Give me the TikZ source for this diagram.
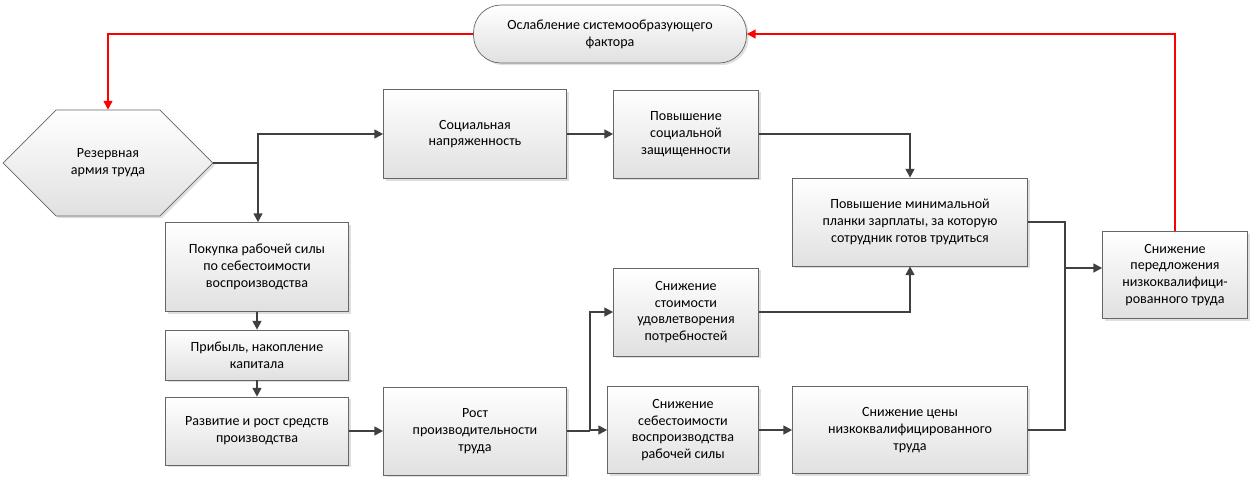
\documentclass[tikz,border=0pt]{standalone}
\usepackage{fontspec}
\setmainfont{Carlito}
\usetikzlibrary{shapes.geometric,shapes.misc,shadows,arrows.meta}

\tikzset{
  box/.style={draw=black!60, top color=white, bottom color=black!12,
    drop shadow={opacity=0.25, shadow xshift=1.2pt, shadow yshift=-1.2pt},
    align=center, inner sep=1pt, font=\fontsize{8}{9.6}\selectfont},
  link/.style={draw=black!75, line width=1.1pt, -{Triangle[length=5pt,width=5pt]}},
  back/.style={draw=red, line width=0.9pt, -{Triangle[length=5pt,width=5pt]}}
}

\begin{document}
\begin{tikzpicture}[x=0.02cm, y=-0.02cm]
  \useasboundingbox (0,0) rectangle (1253,478);

  % left column
  \node (army) [box, chamfered rectangle, chamfered rectangle xsep=1.2cm,
    chamfered rectangle ysep=0.9cm,
    minimum width=4.2cm, minimum height=1.8cm, inner xsep=0pt] at (108,163) {Резервная\\армия труда};
  \node (buy) [box, minimum width=3.66cm, minimum height=1.78cm] at (257,267) {Покупка рабочей силы\\по себестоимости\\воспроизводства};
  \node (profit) [box, minimum width=3.66cm, minimum height=1.0cm] at (257,355) {Прибыль, накопление\\капитала};
  \node (means) [box, minimum width=3.66cm, minimum height=1.36cm] at (257,431) {Развитие и рост средств\\производства};

  % middle
  \node (tension) [box, minimum width=3.66cm, minimum height=1.78cm] at (475,134) {Социальная\\напряженность};
  \node (growth) [box, minimum width=3.66cm, minimum height=1.76cm] at (475,431) {Рост\\производительности\\труда};
  \node (protect) [box, minimum width=2.9cm, minimum height=1.76cm] at (686,134) {Повышение\\социальной\\защищенности};
  \node (needs) [box, minimum width=2.9cm, minimum height=1.76cm] at (686,312) {Снижение\\стоимости\\удовлетворения\\потребностей};
  \node (cost) [box, minimum width=3.02cm, minimum height=1.74cm] at (683,430) {Снижение\\себестоимости\\воспроизводства\\рабочей силы};

  % right
  \node (wage) [box, minimum width=4.7cm, minimum height=1.76cm] at (910,222) {Повышение минимальной\\планки зарплаты, за которую\\сотрудник готов трудиться};
  \node (price) [box, minimum width=4.7cm, minimum height=1.74cm] at (910,430) {Снижение цены\\низкоквалифицированного\\труда};
  \node (supply) [box, minimum width=2.9cm, minimum height=1.74cm] at (1175,275) {Снижение\\передложения\\низкоквалифици-\\рованного труда};
  \node (weak) [box, rounded corners=0.55cm, minimum width=5.46cm, minimum height=1.16cm] at (610,34) {Ослабление системообразующего\\фактора};

  \coordinate (split) at (258,163);
  \coordinate (fork) at (590,431);
  \coordinate (join) at (1065,268);

  \draw[draw=black!75, line width=1.1pt] (army.east) -- (split);
  \draw[link] (split) |- (tension.west);
  \draw[link] (split) -- (buy.north -| split);
  \draw[link] (buy) -- (profit);
  \draw[link] (profit) -- (means);
  \draw[link] (means) -- (growth);
  \draw[draw=black!75, line width=1.1pt] (growth.east) -- (fork);
  \draw[link] (fork) |- (needs.west);
  \draw[link] (fork) |- (cost.west);
  \draw[link] (tension) -- (protect);
  \draw[link] (protect.east) -| (wage.north);
  \draw[link] (needs.east) -| (wage.south);
  \draw[link] (cost) -- (price);
  \draw[draw=black!75, line width=1.1pt] (wage.east) -| (join);
  \draw[draw=black!75, line width=1.1pt] (price.east) -| (join);
  \draw[link] (join) -- (supply.west |- join);
  \draw[back] (supply.north) |- (weak.east);
  \draw[back] (weak.west) -| (army.north);
\end{tikzpicture}
\end{document}
